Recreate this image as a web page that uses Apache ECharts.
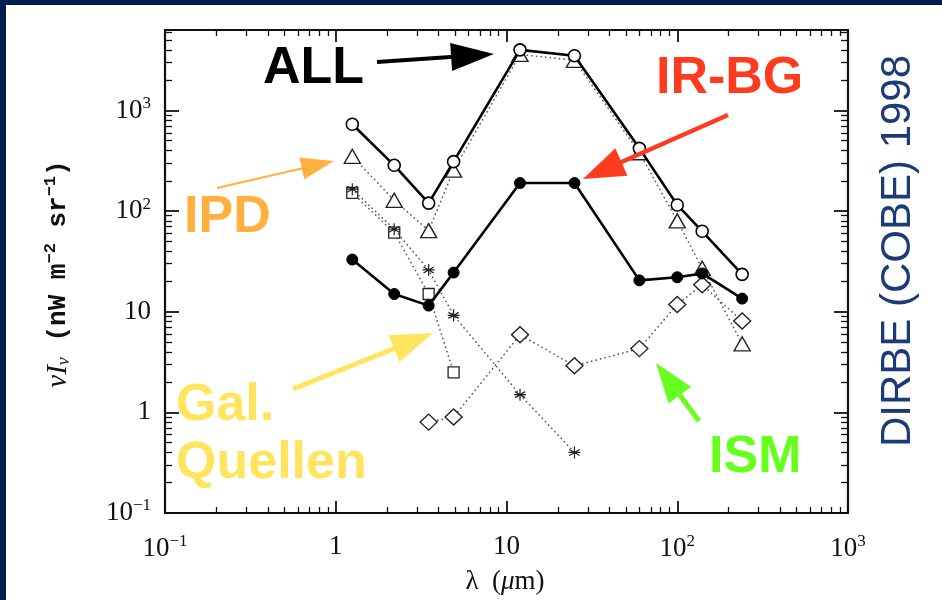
<!DOCTYPE html>
<html><head><meta charset="utf-8">
<script src="https://cdn.jsdelivr.net/npm/echarts@6/dist/echarts.min.js"></script>
<style>html,body{margin:0;padding:0;background:#fff;overflow:hidden}#c{width:942px;height:600px}</style>
</head><body><div id="c"></div>
<script>
// ---- data (DIRBE bands, µm) ----
const wavelengths = [1.25, 2.2, 3.5, 4.9, 12, 25, 60, 100, 140, 240];
const allTotal   = [730, 285, 120, 310, 4000, 3500, 420, 115, 63, 23.5];
const irbg       = [33, 15, 11.5, 24.5, 190, 190, 20.5, 22, 24, 13.5];
const ipd        = [350, 128, 64, 255, 3600, 3150, 380, 80, 27, 4.8];
const galStarW   = [1.25, 2.2, 3.5, 4.9, 12, 25];
const galStars   = [165, 66, 26, 9.2, 1.5, 0.4];
const galSquareW = [1.25, 2.2, 3.5, 4.9];
const galSquares = [152, 61, 15, 2.5];
const ismW       = [3.5, 4.9, 12, 25, 60, 100, 140, 240];
const ism        = [0.8, 0.9, 5.9, 2.9, 4.3, 11.8, 18.5, 8.1];
const xTickExps  = [-1, 0, 1, 2, 3];
const yTickExps  = [-1, 0, 1, 2, 3];
const xRange = [0.1, 1000];
const yRange = [0.1, 6300];

const pairs = (xs, ys) => xs.map((x, i) => [x, ys[i]]);
const lg = Math.log10;
function minorTicks(lo, hi) {
  const out = [];
  for (let n = Math.floor(lo); n < hi; n++) for (let k = 2; k <= 9; k++) {
    const v = n + lg(k); if (v > lo && v < hi) out.push(v);
  }
  return out;
}
const xMinor = minorTicks(lg(xRange[0]), lg(xRange[1]));
const yMinor = minorTicks(lg(yRange[0]), lg(yRange[1]));
function powLabel(v) {
  const n = Math.round(v);
  if (n === 0) return '1';
  if (n === 1) return '10';
  return '10{s|' + (n < 0 ? '\u2212' : '') + Math.abs(n) + '}';
}
const FONT_SERIF = '"Liberation Serif", "DejaVu Serif", serif';
const FONT_SANS = '"Liberation Sans", Arial, sans-serif';
const FONT_MONO = '"Liberation Mono", "DejaVu Sans Mono", monospace';
const INK = '#111';
const richSup = { s: { fontSize: 17, fontFamily: FONT_SERIF, color: INK, verticalAlign: 'top', padding: [0, 0, 14, 0] } };

const gridRect = { left: 165, right: 94, top: 30, bottom: 87, outerBoundsMode: 'none' };
const grids = [0, 1, 2, 3, 4].map(() => Object.assign({}, gridRect));

function decoX(gi, pos, major) {
  return {
    type: 'value', gridIndex: gi, position: pos, min: lg(xRange[0]), max: lg(xRange[1]),
    splitLine: { show: false },
    axisLine: { show: major, onZero: false, lineStyle: { color: INK, width: 2.2 } },
    axisTick: { show: true, inside: true, length: major ? 12 : 6, customValues: major ? xTickExps : xMinor,
      lineStyle: { color: INK, width: major ? 1.8 : 1.3 } },
    axisLabel: (major && pos === 'bottom') ? {
      show: true, customValues: xTickExps, formatter: powLabel, margin: 20,
      fontFamily: FONT_SERIF, fontSize: 27, color: INK, rich: richSup
    } : { show: false }
  };
}
function decoY(gi, pos, major) {
  return {
    type: 'value', gridIndex: gi, position: pos, min: lg(yRange[0]), max: lg(yRange[1]),
    splitLine: { show: false },
    axisLine: { show: major, onZero: false, lineStyle: { color: INK, width: 2.2 } },
    axisTick: { show: true, inside: true, length: major ? 14 : 7, customValues: major ? yTickExps : yMinor,
      lineStyle: { color: INK, width: major ? 1.8 : 1.3 } },
    axisLabel: (major && pos === 'left') ? {
      show: true, customValues: yTickExps, formatter: powLabel, margin: 14,
      fontFamily: FONT_SERIF, fontSize: 27, color: INK, rich: richSup
    } : { show: false }
  };
}

function arrow(x1, y1, x2, y2, hl, hw, sw, color) {
  const dx = x2 - x1, dy = y2 - y1, L = Math.hypot(dx, dy), ux = dx / L, uy = dy / L;
  const bx = x2 - ux * hl, by = y2 - uy * hl, px = -uy, py = ux;
  return [
    { type: 'line', z: 50, shape: { x1: x1, y1: y1, x2: bx + ux * 3, y2: by + uy * 3 }, style: { stroke: color, lineWidth: sw } },
    { type: 'polygon', z: 50, shape: { points: [[x2, y2], [bx + px * hw / 2, by + py * hw / 2], [bx - px * hw / 2, by - py * hw / 2]] }, style: { fill: color } }
  ];
}
function label(text, x, y, color, align) {
  return { type: 'text', z: 50, x: x, y: y, style: { text: text, font: 'bold 52px ' + FONT_SANS, fill: color, align: align || 'left', verticalAlign: 'middle' } };
}

const dotted = { color: '#555', width: 1.7, type: [0.1, 4.5], cap: 'round' };
const asterisk = 'path://M5,0L5,10M0.7,2.5L9.3,7.5M9.3,2.5L0.7,7.5M0,5L10,5';

const option = {
  backgroundColor: '#fff',
  animation: false,
  grid: grids,
  xAxis: [
    { type: 'log', logBase: 10, gridIndex: 0, min: xRange[0], max: xRange[1], show: false },
    decoX(1, 'bottom', true), decoX(2, 'top', true), decoX(3, 'bottom', false), decoX(4, 'top', false)
  ],
  yAxis: [
    { type: 'log', logBase: 10, gridIndex: 0, min: yRange[0], max: yRange[1], show: false },
    decoY(1, 'left', true), decoY(2, 'right', true), decoY(3, 'left', false), decoY(4, 'right', false)
  ],
  series: [
    { name: 'IPD', type: 'line', data: pairs(wavelengths, ipd), symbol: 'triangle', symbolSize: [16, 14],
      lineStyle: dotted, itemStyle: { color: '#fff', borderColor: '#222', borderWidth: 1.4 }, z: 3 },
    { name: 'Gal. Sterne', type: 'line', data: pairs(galStarW, galStars), symbol: asterisk, symbolSize: 12,
      lineStyle: dotted, itemStyle: { color: 'none', borderColor: '#222', borderWidth: 1.2 }, z: 3 },
    { name: 'Gal. Quellen', type: 'line', data: pairs(galSquareW, galSquares), symbol: 'rect', symbolSize: 11,
      lineStyle: dotted, itemStyle: { color: '#fff', borderColor: '#222', borderWidth: 1.3 }, z: 2 },
    { name: 'ISM', type: 'line', data: pairs(ismW, ism), symbol: 'diamond', symbolSize: [17, 16],
      lineStyle: dotted, itemStyle: { color: '#fff', borderColor: '#222', borderWidth: 1.4 }, z: 3 },
    { name: 'IR-BG', type: 'line', data: pairs(wavelengths, irbg), symbol: 'circle', symbolSize: 11,
      lineStyle: { color: '#000', width: 2.6 }, itemStyle: { color: '#000', borderColor: '#000', borderWidth: 1 }, z: 5 },
    { name: 'ALL', type: 'line', data: pairs(wavelengths, allTotal), symbol: 'circle', symbolSize: 12,
      lineStyle: { color: '#000', width: 2.6 }, itemStyle: { color: '#fff', borderColor: '#000', borderWidth: 1.6 }, z: 6 }
  ],
  graphic: [
    { type: 'rect', z: 60, shape: { x: 0, y: 0, width: 942, height: 5 }, style: { fill: '#001c4e' } },
    { type: 'rect', z: 60, shape: { x: 0, y: 0, width: 6, height: 600 }, style: { fill: '#001c4e' } },
    label('ALL', 263, 69, '#000'),
    label('IR-BG', 656, 79, '#ff3b1f'),
    label('IPD', 184, 218, '#ffb03f'),
    label('Gal.', 176, 406, '#ffe55f'),
    label('Quellen', 176, 464, '#ffe55f'),
    label('ISM', 709, 458, '#66ff1e'),
    ...arrow(377, 62, 494, 54, 43, 28, 4, '#000'),
    ...arrow(728, 115, 583, 179, 42, 30, 4.5, '#ff3b1f'),
    ...arrow(217, 188, 334, 161, 33, 22, 2, '#ffb03f'),
    ...arrow(293, 389, 433, 333, 42, 29, 5, '#ffe55f'),
    ...arrow(699, 421, 656, 363, 40, 28, 5, '#66ff1e'),
    { type: 'text', z: 50, x: 898, y: 251, rotation: Math.PI / 2,
      style: { text: 'DIRBE (COBE) 1998', font: '42px ' + FONT_SANS, fill: '#1b3a78', align: 'center', verticalAlign: 'middle' } },
    { type: 'text', z: 50, x: 58, y: 274, rotation: Math.PI / 2,
      style: { text: '{n|\u03bdI}{b|\u03bd} (nW m{p|\u22122} sr{p|\u22121})', fill: INK, align: 'center', verticalAlign: 'middle',
        font: 'bold 26px ' + FONT_MONO,
        rich: {
          n: { fontSize: 29, fontFamily: FONT_SERIF, fontStyle: 'italic', fill: INK, color: INK },
          b: { fontSize: 18, fontFamily: FONT_SERIF, fontStyle: 'italic', fill: INK, color: INK, verticalAlign: 'bottom', padding: [12, 0, 0, 0] },
          p: { fontSize: 17, fontFamily: FONT_MONO, fontWeight: 'bold', fill: INK, color: INK, verticalAlign: 'top', padding: [0, 0, 14, 0] }
        } } },
    { type: 'text', z: 50, x: 505, y: 582,
      style: { text: '\u03bb  ({m|\u03bc}m)', font: '27px ' + FONT_SERIF, fill: INK, align: 'center', verticalAlign: 'middle',
        rich: { m: { fontSize: 27, fontFamily: FONT_SERIF, fontStyle: 'italic', fill: INK, color: INK } } } }
  ]
};
const chart = echarts.init(document.getElementById('c'), null, { renderer: 'canvas' });
chart.setOption(option);
</script></body></html>
